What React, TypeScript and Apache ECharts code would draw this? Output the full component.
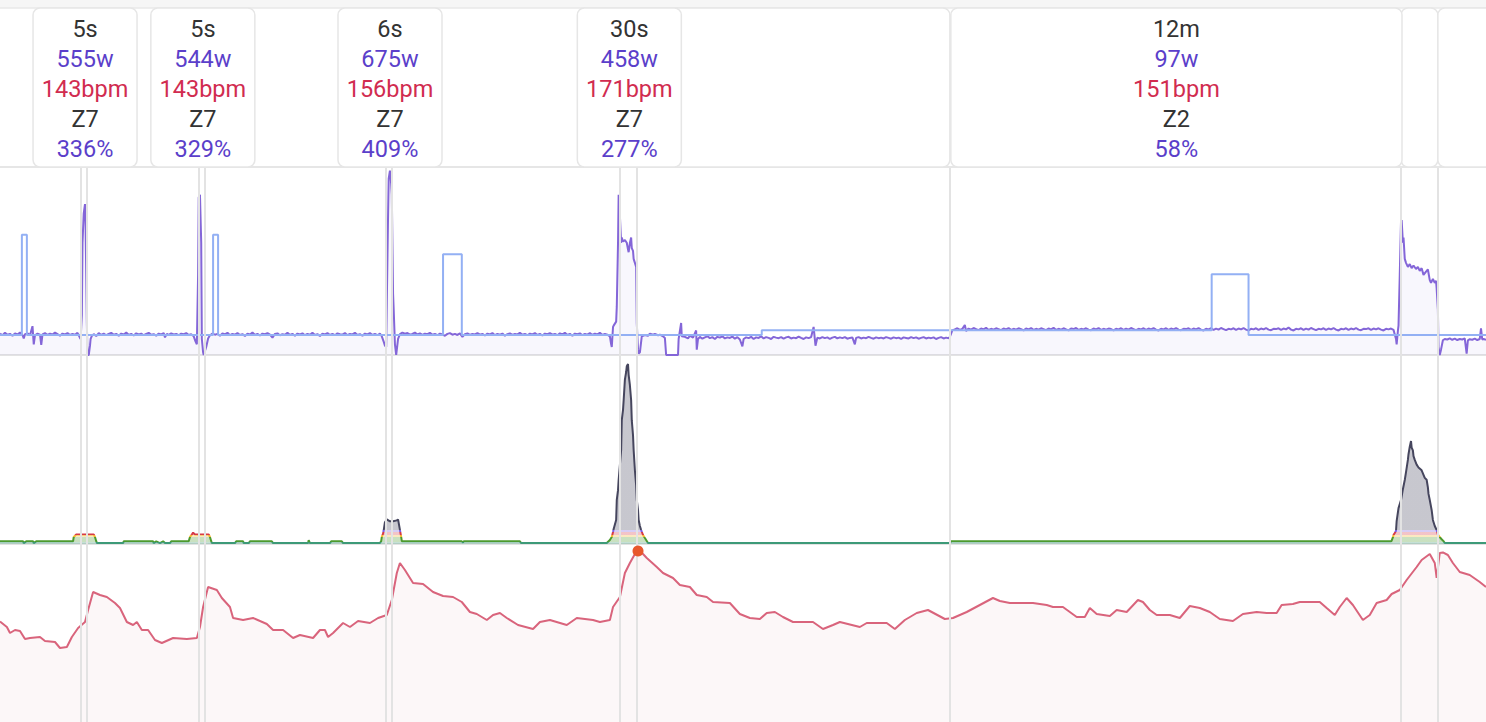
import React, { useEffect, useRef } from "react";
import * as echarts from "echarts";

// ---------- time axis (seconds) ----------
const sessionEndSeconds = 2378;

// ---------- interval boxes ----------
const workStart = [130, 318, 618, 992, 1520];
const workEnd = [139, 328, 627, 1019, 2242];
const workDuration = ["5s", "5s", "6s", "30s", "12m"];
const workPower = ["555w", "544w", "675w", "458w", "97w"];
const workHeartRate = ["143bpm", "143bpm", "156bpm", "171bpm", "151bpm"];
const workZone = ["Z7", "Z7", "Z7", "Z7", "Z2"];
const workPercent = ["336%", "329%", "409%", "277%", "58%"];
const restStart = [1019, 2242, 2301];
const restEnd = [1520, 2301, 2460];

// ---------- power (watts) ----------
const powerSamples: number[][] = [
  [0, 80], [4, 74], [8, 83], [12, 76], [16, 79], [20, 72], [24, 81], [28, 77], [32, 84], [36, 75], [38, 62], [40, 78],
  [44, 81], [48, 74], [52, 108], [54, 40], [56, 74], [60, 80], [64, 76], [66, 38], [68, 77], [72, 82], [76, 75], [80, 80],
  [84, 77], [88, 84], [92, 78], [96, 72], [100, 80], [104, 77], [108, 82], [112, 75], [116, 79], [120, 76], [124, 83],
  [128, 64], [129, 60], [131, 150], [132, 420], [134, 530], [136, 565], [137, 480], [139, 120], [140, 0], [142, 0],
  [144, 35], [145, 60], [147, 72],
  [150, 78], [154, 71], [158, 82], [162, 75], [166, 80], [170, 74], [174, 79], [178, 83], [182, 76], [186, 79], [190, 72],
  [194, 80], [198, 77], [202, 84], [206, 75], [210, 79], [214, 73], [218, 81], [222, 77], [226, 80], [230, 74], [234, 79],
  [238, 83], [242, 76], [246, 78], [250, 72], [254, 80], [258, 77], [262, 82], [264, 66], [267, 79], [270, 75], [274, 81],
  [278, 77], [282, 79], [286, 74], [290, 80], [294, 78], [298, 82], [302, 75], [306, 78], [310, 70], [313, 50],
  [315, 40], [317, 300], [318, 590], [320, 600], [322, 420], [323, 60], [325, 10], [326, 0], [330, 30], [333, 62], [336, 74],
  [340, 80], [344, 76], [348, 79], [352, 72], [356, 81], [360, 77], [364, 83], [368, 74], [372, 79], [376, 76], [380, 82],
  [384, 75], [388, 78], [392, 71], [396, 80], [400, 77], [404, 84], [408, 75], [412, 79], [416, 73], [420, 80], [424, 78],
  [428, 82], [432, 76], [436, 65], [440, 79], [444, 81], [448, 74], [452, 78], [456, 76], [460, 83], [464, 75], [468, 79],
  [472, 72], [476, 80], [480, 77], [484, 81], [488, 74], [492, 79], [496, 76], [500, 83], [504, 75], [508, 78], [512, 71],
  [516, 80], [520, 77], [524, 82], [528, 75], [532, 79], [536, 74], [540, 81], [544, 78], [548, 76], [552, 82], [556, 74],
  [560, 79], [564, 77], [568, 83], [572, 75], [576, 78], [580, 72], [584, 80], [588, 77], [592, 82], [596, 75], [600, 79],
  [604, 74], [608, 80], [611, 70], [614, 50],
  [616, 35], [618, 30], [619, 200], [621, 520], [622, 660], [624, 690], [626, 640], [627, 600], [629, 230], [630, 170],
  [632, 40], [634, 0], [635, 20], [637, 60], [640, 78],
  [644, 84], [648, 80], [652, 82], [656, 76], [660, 79], [664, 84], [668, 77], [672, 81], [676, 75], [680, 80], [684, 78],
  [688, 83], [692, 76], [696, 79], [700, 74], [704, 80], [708, 77], [712, 72], [716, 79], [720, 82], [724, 76], [728, 79],
  [732, 75], [736, 81], [740, 68], [744, 78], [748, 81], [752, 75], [756, 79], [760, 77], [764, 82], [768, 76], [772, 79],
  [776, 73], [780, 80], [784, 77], [788, 82], [792, 74], [796, 79], [800, 76], [804, 80], [808, 72], [812, 78], [816, 81],
  [820, 75], [824, 79], [828, 77], [832, 83], [836, 76], [840, 79], [844, 74], [848, 80], [852, 77], [856, 82], [860, 75],
  [864, 79], [868, 73], [872, 80], [876, 78], [880, 82], [884, 76], [888, 79], [892, 74], [896, 81], [900, 77], [904, 83],
  [908, 75], [912, 79], [916, 72], [920, 80], [924, 78], [928, 81], [932, 74], [936, 79], [940, 76], [944, 82], [948, 75],
  [952, 80], [956, 77], [960, 83], [964, 75], [968, 79], [972, 76], [976, 70],
  [978, 40], [979, 30], [981, 105], [982, 110], [986, 125], [987, 180], [989, 420], [990, 600], [992, 520], [994, 420],
  [995, 440], [997, 425], [1000, 430], [1003, 420], [1005, 395], [1006, 385], [1008, 420], [1010, 440], [1011, 400],
  [1013, 390], [1014, 360], [1016, 345], [1018, 330], [1019, 120], [1021, 20], [1022, 5], [1024, 10], [1027, 70],
  [1032, 75], [1037, 72], [1040, 80], [1045, 76], [1048, 79], [1053, 74], [1056, 76], [1061, 70], [1064, 64], [1066, 0],
  [1085, 0], [1086, 60], [1090, 120], [1091, 70], [1096, 68], [1101, 62], [1104, 72], [1109, 65], [1114, 92], [1115, 20],
  [1117, 60], [1120, 68],
  [1124, 61], [1128, 66], [1132, 70], [1136, 63], [1140, 67], [1144, 60], [1148, 68], [1152, 65], [1156, 70], [1160, 62],
  [1164, 66], [1168, 64], [1172, 69], [1176, 61], [1180, 67], [1184, 58], [1188, 32], [1190, 60], [1194, 66], [1198, 63],
  [1202, 68], [1206, 60], [1210, 66], [1214, 64], [1218, 70], [1222, 62], [1226, 67], [1230, 64], [1234, 60], [1238, 68],
  [1242, 65], [1246, 63], [1250, 67], [1254, 61], [1258, 66], [1262, 68], [1266, 62], [1270, 65], [1274, 63], [1278, 69],
  [1282, 64], [1286, 60], [1290, 66], [1294, 63], [1298, 67], [1302, 105], [1305, 35], [1308, 65], [1312, 62], [1316, 67],
  [1320, 63], [1324, 66], [1328, 60], [1332, 65], [1336, 68], [1340, 62], [1344, 66], [1348, 63], [1352, 67], [1356, 61],
  [1360, 64], [1364, 66], [1368, 40], [1370, 64], [1374, 67], [1378, 62], [1382, 65], [1386, 63], [1390, 68], [1394, 64],
  [1398, 61], [1402, 66], [1406, 63], [1410, 65], [1414, 62], [1418, 67], [1422, 64], [1426, 61], [1430, 66], [1434, 63],
  [1438, 65], [1442, 60], [1446, 66], [1450, 64], [1454, 62], [1458, 67], [1462, 63], [1466, 66], [1470, 61], [1474, 64],
  [1478, 67], [1482, 62], [1486, 65], [1490, 63], [1494, 66], [1498, 60], [1502, 64], [1506, 67], [1510, 62], [1514, 65],
  [1518, 63], [1520, 68],
  [1524, 92], [1528, 96], [1532, 100], [1536, 94], [1540, 98], [1544, 112], [1546, 90], [1550, 99], [1554, 95], [1558, 101],
  [1562, 97], [1566, 93], [1570, 99], [1574, 96], [1578, 102], [1582, 94], [1586, 98], [1590, 95], [1594, 100], [1598, 97],
  [1602, 93], [1606, 99], [1610, 96], [1614, 101], [1618, 94], [1622, 98], [1626, 95], [1630, 100], [1634, 97], [1638, 92],
  [1642, 99], [1646, 96], [1650, 101], [1654, 94], [1658, 98], [1662, 95], [1666, 100], [1670, 97], [1674, 93], [1678, 99],
  [1682, 96], [1686, 102], [1690, 94], [1694, 98], [1698, 95], [1702, 100], [1706, 96], [1710, 92], [1714, 99], [1718, 97],
  [1722, 101], [1726, 94], [1730, 98], [1734, 96], [1738, 100], [1742, 95], [1746, 93], [1750, 99], [1754, 96], [1758, 101],
  [1762, 94], [1766, 98], [1770, 95], [1774, 99], [1778, 97], [1782, 92], [1786, 98], [1790, 96], [1794, 100], [1798, 94],
  [1802, 99], [1806, 95], [1810, 101], [1814, 97], [1818, 93], [1822, 98], [1826, 96], [1830, 100], [1834, 94], [1838, 99],
  [1842, 96], [1846, 101], [1850, 95], [1854, 92], [1858, 98], [1862, 96], [1866, 100], [1870, 94], [1874, 99], [1878, 96],
  [1882, 101], [1886, 95], [1890, 93], [1894, 98], [1898, 97], [1902, 100], [1906, 94], [1910, 99], [1914, 96], [1918, 101],
  [1922, 95], [1926, 92], [1930, 98], [1934, 96], [1938, 100], [1942, 94], [1946, 99], [1950, 95], [1954, 101], [1958, 97],
  [1962, 93], [1966, 98], [1970, 96], [1974, 100], [1978, 94], [1982, 99], [1986, 96], [1990, 101], [1994, 95], [1998, 92],
  [2002, 98], [2006, 96], [2010, 100], [2014, 94], [2018, 99], [2022, 96], [2026, 101], [2030, 95], [2034, 93], [2038, 98],
  [2042, 97], [2046, 100], [2050, 94], [2054, 99], [2058, 96], [2062, 103], [2066, 95], [2070, 92], [2074, 98], [2078, 96],
  [2082, 100], [2086, 94], [2090, 99], [2094, 95], [2098, 101], [2102, 97], [2106, 93], [2110, 98], [2114, 96], [2118, 100],
  [2122, 94], [2126, 99], [2130, 96], [2134, 101], [2138, 95], [2142, 92], [2146, 98], [2150, 96], [2154, 100], [2158, 94],
  [2162, 99], [2166, 96], [2170, 101], [2174, 95], [2178, 93], [2182, 98], [2186, 97], [2190, 100], [2194, 94], [2198, 99],
  [2202, 96], [2206, 100], [2210, 95], [2214, 92], [2218, 98], [2222, 96], [2226, 99], [2230, 94],
  [2234, 60], [2235, 40], [2237, 90], [2238, 110], [2240, 300], [2242, 500], [2243, 505], [2245, 420], [2246, 440],
  [2248, 360], [2250, 345], [2253, 330], [2256, 340], [2259, 325], [2262, 335], [2266, 322], [2269, 330], [2272, 315],
  [2275, 325], [2278, 300], [2282, 312], [2285, 320], [2288, 280], [2290, 270], [2293, 285], [2296, 270], [2298, 278],
  [2299, 250], [2301, 170], [2302, 30], [2304, 0], [2306, 20], [2309, 55],
  [2312, 60], [2316, 58], [2320, 62], [2324, 57], [2328, 61], [2332, 56], [2336, 60], [2340, 58], [2344, 62], [2347, 5],
  [2349, 55], [2352, 59], [2356, 57], [2360, 61], [2364, 56], [2368, 60], [2370, 100], [2372, 58], [2374, 60], [2378, 57],
];

// ---------- target power (watts) ----------
const targetSamples: number[][] = [
  [0, 75], [35, 75], [35, 450], [43, 450], [43, 75], [341, 75], [341, 450], [349, 450], [349, 75],
  [709, 75], [709, 377], [739, 377], [739, 75], [1219, 75], [1219, 93], [1939, 93], [1939, 302],
  [1998, 302], [1998, 75], [2378, 75],
];

// ---------- W' expended (kJ) ----------
const wprimeSamples: number[][] = [
  [0, 0.28], [37, 0.28], [38, 0.1], [42, 0.28], [53, 0.28], [54, 0.1], [58, 0.28], [115, 0.28], [117, 0.3], [118, 0.75],
  [122, 1.0], [150, 1.0], [152, 0.75], [154, 0.3], [155, 0.1], [197, 0.1], [198, 0.28], [245, 0.28], [246, 0.1],
  [250, 0.28], [256, 0.1], [261, 0.28], [264, 0.1], [272, 0.1], [274, 0.28], [302, 0.28], [304, 0.75], [307, 1.0],
  [309, 1.2], [312, 1.0], [334, 1.0], [336, 0.75], [338, 0.3], [339, 0.1], [376, 0.1], [378, 0.28], [389, 0.28],
  [390, 0.1], [398, 0.1], [400, 0.28], [435, 0.28], [437, 0.1], [493, 0.1], [494, 0.4], [496, 0.1], [528, 0.1],
  [530, 0.28], [547, 0.28], [549, 0.1], [608, 0.1], [610, 0.3], [611, 0.75], [613, 1.1], [614, 1.45], [616, 2.3],
  [619, 2.6], [624, 2.4], [629, 2.4], [635, 2.5], [637, 2.6], [640, 1.5], [642, 0.75], [643, 0.3], [645, 0.28],
  [739, 0.28], [741, 0.15], [742, 0.28], [832, 0.28], [834, 0.1], [971, 0.1],
  [976, 0.42], [979, 0.74], [981, 1.27], [982, 1.59], [986, 2.54], [987, 4.66], [989, 5.7], [990, 6.77], [992, 8.36],
  [994, 9.95], [995, 13.1], [997, 14.2], [998, 15.2], [1000, 17.4], [1002, 18.2], [1003, 18.8], [1005, 19.05],
  [1006, 17.9], [1008, 16.8], [1010, 15.2], [1011, 13.1], [1013, 11.5], [1014, 9.95], [1016, 7.8], [1018, 6.2],
  [1019, 4.66], [1021, 3.6], [1022, 2.54], [1024, 1.9], [1026, 1.48], [1029, 0.95], [1032, 0.63], [1035, 0.32],
  [1037, 0.1], [1520, 0.1], [1522, 0.28], [2226, 0.28],
  [2227, 0.35], [2229, 0.7], [2230, 0.95], [2232, 1.17], [2234, 1.4], [2235, 2.43], [2238, 3.8], [2242, 4.66],
  [2245, 5.8], [2248, 6.77], [2250, 7.6], [2253, 8.9], [2254, 9.5], [2256, 10.3], [2258, 10.9], [2259, 10.2],
  [2261, 9.9], [2262, 9.3], [2264, 8.9], [2267, 8.4], [2270, 8.1], [2275, 7.8], [2280, 7.0], [2283, 6.8], [2285, 6.0],
  [2286, 5.3], [2288, 4.66], [2291, 3.6], [2293, 2.54], [2296, 1.9], [2299, 1.48], [2301, 1.0], [2304, 0.74],
  [2307, 0.5], [2310, 0.3], [2312, 0.1], [2378, 0.1],
];
const wprimeZoneLimits = [0.19, 0.69, 0.9, 1.32, 1.53];
const wprimeZoneColors = ["#3d9a78", "#4c9a2e", "#f2b530", "#d63a48", "#7b5ce0", "#46465e"];

// ---------- heart rate (bpm) ----------
const heartRateSamples: number[][] = [
  [0, 150.2], [11, 147.5], [16, 144.5], [24, 146], [32, 145.5], [40, 141.5], [48, 142], [64, 142.5], [72, 140.5],
  [88, 140], [96, 137], [107, 137.5], [115, 142.5], [125, 147], [136, 150], [141, 156], [149, 165], [160, 163.5],
  [171, 162.5], [184, 159.5], [192, 157], [203, 150], [213, 148.5], [219, 150], [227, 146], [237, 146], [248, 141],
  [259, 139.5], [277, 142], [299, 141.5], [315, 142], [320, 147.5], [325, 157.5], [333, 167.5], [347, 166], [355, 162],
  [368, 157.5], [373, 152], [389, 151], [405, 152], [427, 149], [437, 146], [453, 146], [469, 142], [480, 143.5],
  [501, 142], [512, 146], [520, 146], [525, 142.5], [533, 144.5], [549, 149.5], [560, 147.5], [573, 150.5],
  [592, 149.5], [605, 152], [619, 153.5], [627, 161], [635, 174.5], [640, 179.5], [648, 176], [661, 169.5], [677, 169],
  [693, 165], [709, 163], [725, 162.5], [739, 160], [752, 155], [763, 154], [779, 151], [789, 153.5], [800, 154.5],
  [811, 152], [829, 148.5], [853, 146.5], [864, 150], [880, 151], [907, 148.5], [923, 152], [949, 151], [960, 150],
  [976, 151], [981, 157.5], [992, 162.5], [1000, 174.5], [1008, 179.5], [1016, 184], [1021, 185.5], [1026, 185],
  [1035, 182], [1051, 177.5], [1061, 174.5], [1077, 172], [1088, 168.5], [1104, 167.5], [1115, 163.5], [1131, 162.5],
  [1141, 160], [1168, 159.5], [1184, 154], [1200, 152], [1216, 151.5], [1227, 154.5], [1240, 155], [1253, 152.5],
  [1269, 150], [1301, 150], [1317, 146.5], [1333, 148.5], [1344, 150], [1376, 147.5], [1387, 149.5], [1419, 149.5],
  [1432, 146.5], [1448, 151], [1467, 154.5], [1485, 156], [1512, 151.5], [1525, 152], [1547, 155], [1568, 158.5],
  [1589, 162], [1600, 160.5], [1616, 159.5], [1653, 159.5], [1675, 158.5], [1685, 157.5], [1701, 157.5], [1723, 152.5],
  [1736, 152.5], [1744, 157], [1755, 154], [1776, 153], [1787, 156], [1803, 155], [1821, 161], [1829, 160], [1840, 156],
  [1851, 153.5], [1872, 153.5], [1888, 152], [1904, 158], [1920, 157], [1936, 155], [1952, 151.5], [1973, 150.5],
  [1989, 154], [2011, 155], [2027, 154.5], [2043, 154.5], [2051, 158.5], [2069, 159], [2080, 160], [2112, 160],
  [2123, 157], [2136, 153.5], [2144, 157.5], [2155, 162], [2165, 158.5], [2181, 151], [2192, 153.5], [2203, 159.5],
  [2219, 161], [2227, 164], [2240, 166], [2251, 171], [2267, 177.5], [2275, 181], [2288, 184], [2296, 179.5],
  [2299, 172], [2304, 184.5], [2309, 184.8], [2317, 183.5], [2325, 179.5], [2336, 175], [2352, 173.5], [2368, 170],
  [2378, 167.5],
];

const DARK = "#333333";
const PURPLE = "#5b3fca";
const RED = "#d12c50";
const FONT = "Roboto, 'Noto Sans', sans-serif";

const boundaries = Array.from(new Set([...workStart, ...workEnd, ...restStart, ...restEnd])).filter(
  (t) => t < sessionEndSeconds
);

function vLineSeries(xi: number) {
  return {
    type: "line",
    xAxisIndex: xi,
    yAxisIndex: xi,
    data: [],
    z: 1,
    silent: true,
    markLine: {
      silent: true,
      symbol: ["none", "none"],
      label: { show: false },
      lineStyle: { color: "#e3e3e3", width: 2, type: "solid" },
      emphasis: { disabled: true },
      data: boundaries.map((t) => ({ xAxis: t })),
    },
  };
}

export default function App() {
  const ref = useRef<HTMLDivElement>(null);
  useEffect(() => {
    if (!ref.current) return;
    const chart = echarts.init(ref.current, undefined, { renderer: "svg" });
    const xAxisBase = {
      type: "value",
      min: 0,
      max: sessionEndSeconds,
      axisLabel: { show: false },
      axisTick: { show: false },
      splitLine: { show: false },
    };
    const option: any = {
      animation: false,
      backgroundColor: "#ffffff",
      grid: [
        { left: 0, right: 0, top: 168, height: 187 },
        { left: 0, right: 0, top: 355, height: 189 },
        { left: 0, right: 0, top: 545, height: 177 },
      ],
      xAxis: [
        { ...xAxisBase, gridIndex: 0, axisLine: { show: true, onZero: false, lineStyle: { color: "#e3e3e3", width: 2 } } },
        { ...xAxisBase, gridIndex: 1, axisLine: { show: true, onZero: false, lineStyle: { color: "#e3e3e3", width: 2 } } },
        { ...xAxisBase, gridIndex: 2, axisLine: { show: false } },
      ],
      yAxis: [
        { type: "value", gridIndex: 0, min: 0, max: 700, show: false },
        { type: "value", gridIndex: 1, min: 0, max: 20, show: false },
        { type: "value", gridIndex: 2, min: 100, max: 188.5, show: false },
      ],
      visualMap: [
        {
          show: false,
          type: "piecewise",
          seriesIndex: 6,
          dimension: 1,
          pieces: [
            { lt: wprimeZoneLimits[0], color: wprimeZoneColors[0] },
            { gte: wprimeZoneLimits[0], lt: wprimeZoneLimits[1], color: wprimeZoneColors[1] },
            { gte: wprimeZoneLimits[1], lt: wprimeZoneLimits[2], color: wprimeZoneColors[2] },
            { gte: wprimeZoneLimits[2], lt: wprimeZoneLimits[3], color: wprimeZoneColors[3] },
            { gte: wprimeZoneLimits[3], lt: wprimeZoneLimits[4], color: wprimeZoneColors[4] },
            { gte: wprimeZoneLimits[4], color: wprimeZoneColors[5] },
          ],
        },
      ],
      graphic: [
        { type: "rect", z: 0, shape: { x: 0, y: 0, width: 1486, height: 8 }, style: { fill: "#f6f6f6" } },
        { type: "line", z: 0, shape: { x1: 0, y1: 8, x2: 1486, y2: 8 }, style: { stroke: "#e8e8e8", lineWidth: 1.5 } },
        { type: "line", z: 0, shape: { x1: 0, y1: 167, x2: 1486, y2: 167 }, style: { stroke: "#e6e6e6", lineWidth: 2 } },
      ],
      series: [
        {
          type: "custom",
          xAxisIndex: 0,
          yAxisIndex: 0,
          z: 5,
          silent: true,
          clip: false,
          data: restStart.map((s, i) => [s, restEnd[i]]),
          renderItem: (params: any, api: any) => {
            const x0 = api.coord([api.value(0), 0])[0];
            const x1 = api.coord([api.value(1), 0])[0];
            return {
              type: "rect",
              shape: { x: x0, y: 8, width: x1 - x0, height: 159, r: 7 },
              style: { fill: "#ffffff", stroke: "#e6e6e6", lineWidth: 1.5 },
            };
          },
        },
        {
          type: "custom",
          xAxisIndex: 0,
          yAxisIndex: 0,
          z: 6,
          silent: true,
          clip: false,
          data: workStart.map((s, i) => [s, workEnd[i]]),
          renderItem: (params: any, api: any) => {
            const i = params.dataIndex;
            const x0 = api.coord([api.value(0), 0])[0];
            const x1 = api.coord([api.value(1), 0])[0];
            const cx = (x0 + x1) / 2 + 1;
            const w = Math.max(x1 - x0, 104);
            const lines = [workDuration[i], workPower[i], workHeartRate[i], workZone[i], workPercent[i]];
            const colors = [DARK, PURPLE, RED, DARK, PURPLE];
            return {
              type: "group",
              children: [
                {
                  type: "rect",
                  shape: { x: cx - w / 2, y: 8, width: w, height: 159, r: 7 },
                  style: { fill: "#ffffff", stroke: "#e6e6e6", lineWidth: 1.5 },
                },
                ...lines.map((t, k) => ({
                  type: "text",
                  x: cx,
                  y: 29 + 30 * k,
                  style: {
                    text: t,
                    align: "center",
                    verticalAlign: "middle",
                    fontSize: 23.5,
                    fontFamily: FONT,
                    fill: colors[k],
                  },
                })),
              ],
            };
          },
        },
        vLineSeries(0),
        {
          name: "Power",
          type: "line",
          xAxisIndex: 0,
          yAxisIndex: 0,
          z: 2,
          symbol: "none",
          silent: true,
          data: powerSamples,
          lineStyle: { color: "#8466d8", width: 2 },
          areaStyle: { color: "rgba(110,85,205,0.07)" },
        },
        {
          name: "Target",
          type: "line",
          xAxisIndex: 0,
          yAxisIndex: 0,
          z: 3,
          symbol: "none",
          silent: true,
          data: targetSamples,
          lineStyle: { color: "#93b0f4", width: 2 },
        },
        vLineSeries(1),
        {
          name: "W'",
          type: "line",
          xAxisIndex: 1,
          yAxisIndex: 1,
          z: 2,
          symbol: "none",
          silent: true,
          data: wprimeSamples,
          lineStyle: { width: 2 },
          areaStyle: { opacity: 0.3 },
        },
        vLineSeries(2),
        {
          name: "Heart rate",
          type: "line",
          xAxisIndex: 2,
          yAxisIndex: 2,
          z: 2,
          symbol: "none",
          silent: true,
          data: heartRateSamples,
          lineStyle: { color: "#d9647c", width: 2 },
          areaStyle: { color: "rgba(205,110,125,0.08)" },
          markPoint: {
            silent: true,
            symbol: "circle",
            symbolSize: 11,
            itemStyle: { color: "#e8582c" },
            label: { show: false },
            data: [{ type: "max", name: "max" }],
          },
        },
      ],
    };
    chart.setOption(option);
    return () => chart.dispose();
  }, []);
  return (
    <div
      ref={ref}
      style={{ position: "fixed", left: 0, top: 0, width: 1486, height: 722, background: "#ffffff" }}
    />
  );
}
